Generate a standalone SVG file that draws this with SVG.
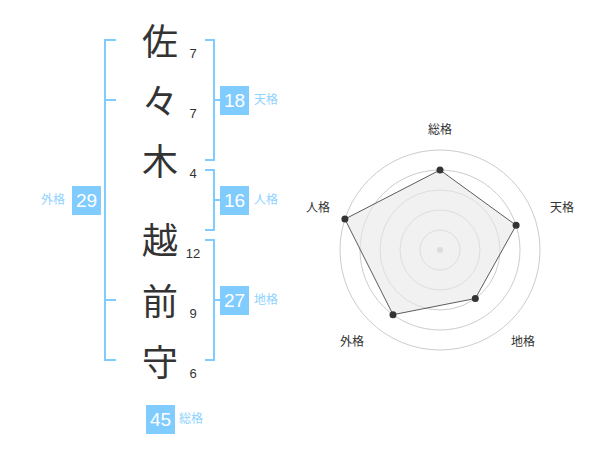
<svg xmlns="http://www.w3.org/2000/svg" width="600" height="470" viewBox="0 0 600 470">
<style>
.kanji{font-family:"Noto Sans CJK JP","Noto Sans",sans-serif;font-size:36px;fill:#333;text-anchor:middle}
.num{font-family:"Liberation Sans",Arial,sans-serif;font-size:13px;fill:#333;text-anchor:middle}
.br{fill:none;stroke:#80ccff;stroke-width:2}
.box{fill:#80ccff}
.bt{font-family:"Liberation Sans",Arial,sans-serif;font-size:19px;fill:#fff;text-anchor:middle}
.lb{font-family:"Noto Sans CJK JP","Noto Sans",sans-serif;font-size:12px;fill:#8ed2ff}
.ring{fill:none;stroke:#cccccc;stroke-width:1}
.rl{font-family:"Noto Sans CJK JP","Noto Sans",sans-serif;font-size:12px;fill:#333;text-anchor:middle}
.pt{fill:#333}
</style>
<rect width="600" height="470" fill="#fff"/>
<g id="connectors">
<path class="br" d="M116,40 H105 V360 H116 M105,100 H116 M105,300 H116"/>
<path class="br" d="M205,40 H214 V160 H205 M214,100 H220"/>
<path class="br" d="M205,170 H214 V230 H205 M214,200 H220"/>
<path class="br" d="M205,240 H214 V360 H205 M214,300 H220"/>
</g>
<g id="name">
<text class="kanji" x="160" y="55">佐</text>
<text class="kanji" x="160" y="115">々</text>
<text class="kanji" x="160" y="175">木</text>
<text class="kanji" x="160" y="254">越</text>
<text class="kanji" x="160" y="315">前</text>
<text class="kanji" x="160" y="376">守</text>
</g>
<g id="strokes">
<text class="num" x="193" y="58">7</text>
<text class="num" x="193" y="118">7</text>
<text class="num" x="193" y="178">4</text>
<text class="num" x="193" y="258">12</text>
<text class="num" x="193" y="318">9</text>
<text class="num" x="193" y="378">6</text>
</g>
<g id="tenkaku">
<rect class="box" x="220" y="86" width="29" height="29"/>
<text class="bt" x="234.5" y="107">18</text>
<text class="lb" x="254" y="104">天格</text>
</g>
<g id="jinkaku">
<rect class="box" x="220" y="186" width="29" height="29"/>
<text class="bt" x="234.5" y="207">16</text>
<text class="lb" x="254" y="204">人格</text>
</g>
<g id="chikaku">
<rect class="box" x="220" y="286" width="29" height="29"/>
<text class="bt" x="234.5" y="307">27</text>
<text class="lb" x="254" y="304">地格</text>
</g>
<g id="gaikaku">
<rect class="box" x="72" y="186" width="29" height="29"/>
<text class="bt" x="86.5" y="207">29</text>
<text class="lb" x="41" y="204">外格</text>
</g>
<g id="soukaku">
<rect class="box" x="146" y="405" width="29" height="29"/>
<text class="bt" x="160.5" y="426">45</text>
<text class="lb" x="179" y="423">総格</text>
</g>
<g id="radar">
<circle class="ring" cx="440" cy="250" r="20"/>
<circle class="ring" cx="440" cy="250" r="40"/>
<circle class="ring" cx="440" cy="250" r="60"/>
<circle class="ring" cx="440" cy="250" r="80"/>
<circle class="ring" cx="440" cy="250" r="100"/>
<circle cx="440" cy="250" r="3" fill="#ccc"/>
<polygon points="440,170 516.1,225.3 475.3,298.5 393,314.7 344.9,219.1" fill="#e8e8e8" fill-opacity="0.6" stroke="#333" stroke-width="0.8"/>
<circle class="pt" cx="440" cy="170" r="3.5"/>
<circle class="pt" cx="516.1" cy="225.3" r="3.5"/>
<circle class="pt" cx="475.3" cy="298.5" r="3.5"/>
<circle class="pt" cx="393" cy="314.7" r="3.5"/>
<circle class="pt" cx="344.9" cy="219.1" r="3.5"/>
<text class="rl" x="440" y="134">総格</text>
<text class="rl" x="562" y="212">天格</text>
<text class="rl" x="523" y="346">地格</text>
<text class="rl" x="352" y="346">外格</text>
<text class="rl" x="318" y="212">人格</text>
</g>
</svg>
